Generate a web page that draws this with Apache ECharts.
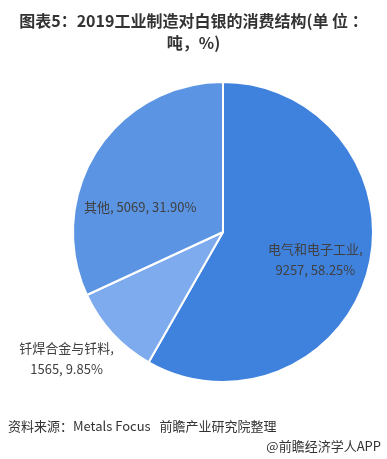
<!DOCTYPE html>
<html><head><meta charset="utf-8">
<script src="https://cdn.jsdelivr.net/npm/echarts@6/dist/echarts.min.js"></script>
<style>html,body{margin:0;padding:0;background:#fff}#c{width:387px;height:459px}</style>
</head><body><div id="c"></div>
<script>
var categories = ['电气和电子工业', '钎焊合金与钎料', '其他'];
var values = [9257, 1565, 5069];
var percents = ['58.25%', '9.85%', '31.90%'];
var labelTexts = ['电气和电子工业,\n9257, 58.25%', '钎焊合金与钎料,\n1565, 9.85%', '其他, 5069, 31.90%'];
var colors = ['#3f82de', '#7eabee', '#5a94e3'];
var labelShift = [[17, 8], [-99, 74], [-17, 17]];

var chart = echarts.init(document.getElementById('c'));
chart.setOption({
  backgroundColor: '#fff',
  title: {
    text: '图表5：2019工业制造对白银的消费结构(单 位 ：\n吨，%)',
    left: 'center', top: 5,
    textStyle: {fontFamily: 'Noto Sans CJK SC', fontWeight: 'bold', fontSize: 16, color: '#333', lineHeight: 22}
  },
  graphic: [
    {type: 'text', left: 8, top: 420, style: {text: '资料来源：Metals Focus   前瞻产业研究院整理', font: '13px "Noto Sans CJK SC"', fill: '#333'}},
    {type: 'text', right: 6, top: 440, style: {text: '@前瞻经济学人APP', font: '13px "Noto Sans CJK SC"', fill: '#333'}}
  ],
  series: [{
    type: 'pie',
    center: [223, 232],
    radius: [0, 150],
    startAngle: 90,
    clockwise: true,
    silent: true,
    animation: false,
    itemStyle: {borderColor: '#fff', borderWidth: 2},
    label: {
      position: 'inside',
      fontFamily: 'Noto Sans CJK SC',
      fontSize: 13,
      color: '#404040',
      lineHeight: 21,
      formatter: function (p) { return labelTexts[p.dataIndex]; }
    },
    labelLine: {show: false},
    labelLayout: function (p) {
      var s = labelShift[p.dataIndex];
      return {dx: s[0], dy: s[1]};
    },
    data: categories.map(function (c, i) {
      return {name: c, value: values[i], itemStyle: {color: colors[i]}};
    })
  }]
});
</script></body></html>
